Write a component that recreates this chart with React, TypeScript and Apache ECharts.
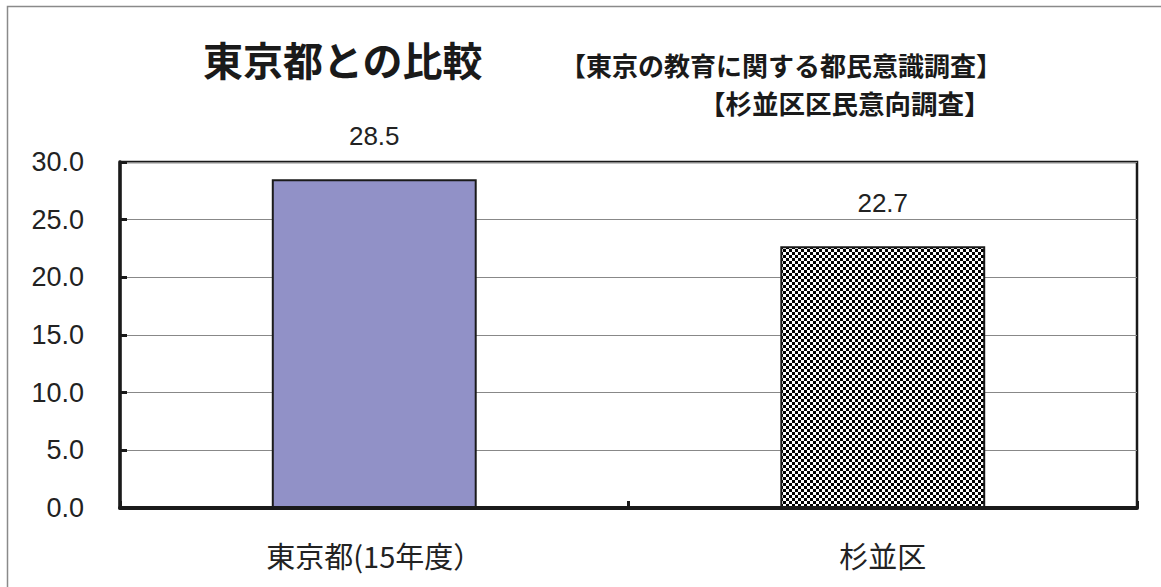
import React, { useEffect, useRef } from 'react';
import * as echarts from 'echarts';

const categories = ['東京都(15年度）', '杉並区'];
const values = [28.5, 22.7];
const yMin = 0;
const yMax = 30;
const yStep = 5;
const titleText = '東京都との比較';
const sourceLines = ['【東京の教育に関する都民意識調査】', '【杉並区区民意向調査】'];

const CJK = '"Noto Sans CJK JP", "Noto Sans", sans-serif';
const NUM = '"Liberation Sans", Arial, "Noto Sans CJK JP", sans-serif';

function makePattern(): HTMLCanvasElement {
  const c = document.createElement('canvas');
  c.width = 6;
  c.height = 6;
  const ctx = c.getContext('2d')!;
  ctx.fillStyle = '#ffffff';
  ctx.fillRect(0, 0, 6, 6);
  ctx.fillStyle = '#000000';
  ctx.fillRect(0, 0, 3, 3);
  ctx.fillRect(3, 3, 3, 3);
  return c;
}

export default function App() {
  const ref = useRef<HTMLDivElement>(null);
  useEffect(() => {
    document.body.style.margin = '0';
    if (!ref.current) return;
    const chart = echarts.init(ref.current, undefined, { renderer: 'svg' });
    const pattern = makePattern();
    const barStyles = [
      { color: '#9191c7', borderColor: '#1a1a1a', borderWidth: 2 },
      {
        color: { image: pattern, repeat: 'repeat' } as any,
        borderColor: '#1a1a1a',
        borderWidth: 2,
      },
    ];
    chart.setOption({
      animation: false,
      backgroundColor: '#ffffff',
      grid: {
        left: 120,
        right: 24,
        top: 162,
        bottom: 79,
        show: true,
        borderColor: '#1a1a1a',
        borderWidth: 2.5,
        backgroundColor: 'transparent',
      },
      xAxis: {
        type: 'category',
        data: categories,
        axisLine: { show: true, lineStyle: { color: '#1a1a1a', width: 4 } },
        axisTick: { show: true, inside: true, length: 7, lineStyle: { color: '#1a1a1a', width: 3 } },
        axisLabel: { fontSize: 29, margin: 32, color: '#222', fontFamily: CJK },
        splitLine: { show: false },
      },
      yAxis: {
        type: 'value',
        min: yMin,
        max: yMax,
        interval: yStep,
        axisLine: { show: true, lineStyle: { color: '#1a1a1a', width: 3.5 } },
        axisTick: { show: true, inside: true, length: 7, lineStyle: { color: '#1a1a1a', width: 3 } },
        axisLabel: {
          fontSize: 27,
          margin: 36,
          color: '#222',
          fontFamily: NUM,
          formatter: (v: number) => v.toFixed(1),
        },
        splitLine: { show: true, lineStyle: { color: '#888888', width: 1 } },
      },
      series: [
        {
          type: 'bar',
          barWidth: '40.3%',
          data: values.map((v, i) => ({ value: v, itemStyle: barStyles[i] })),
          label: {
            show: true,
            position: 'top',
            distance: 30,
            fontSize: 26,
            color: '#222',
            fontFamily: NUM,
            formatter: (p: any) => Number(p.value).toFixed(1),
          },
        },
      ],
      graphic: [
        {
          type: 'rect',
          silent: true,
          shape: { x: 7.5, y: 6.5, width: 1300, height: 700 },
          style: { fill: 'none', stroke: '#8a8a8a', lineWidth: 1.5 },
        },
        {
          type: 'text',
          x: 203,
          y: 58.5,
          style: {
            text: titleText,
            fontSize: 40,
            fontWeight: 'bold',
            fontFamily: CJK,
            fill: '#1a1a1a',
            verticalAlign: 'middle',
            align: 'left',
          },
        },
        {
          type: 'text',
          x: 560,
          y: 64,
          style: {
            text: sourceLines[0],
            fontSize: 26,
            fontWeight: 'bold',
            fontFamily: CJK,
            fill: '#1a1a1a',
            verticalAlign: 'middle',
            align: 'left',
          },
        },
        {
          type: 'text',
          x: 699,
          y: 102,
          style: {
            text: sourceLines[1],
            fontSize: 26.5,
            fontWeight: 'bold',
            fontFamily: CJK,
            fill: '#1a1a1a',
            verticalAlign: 'middle',
            align: 'left',
          },
        },
      ],
    });
    return () => chart.dispose();
  }, []);
  return (
    <div
      ref={ref}
      style={{ position: 'absolute', left: 0, top: 0, width: 1161, height: 587 }}
    />
  );
}
